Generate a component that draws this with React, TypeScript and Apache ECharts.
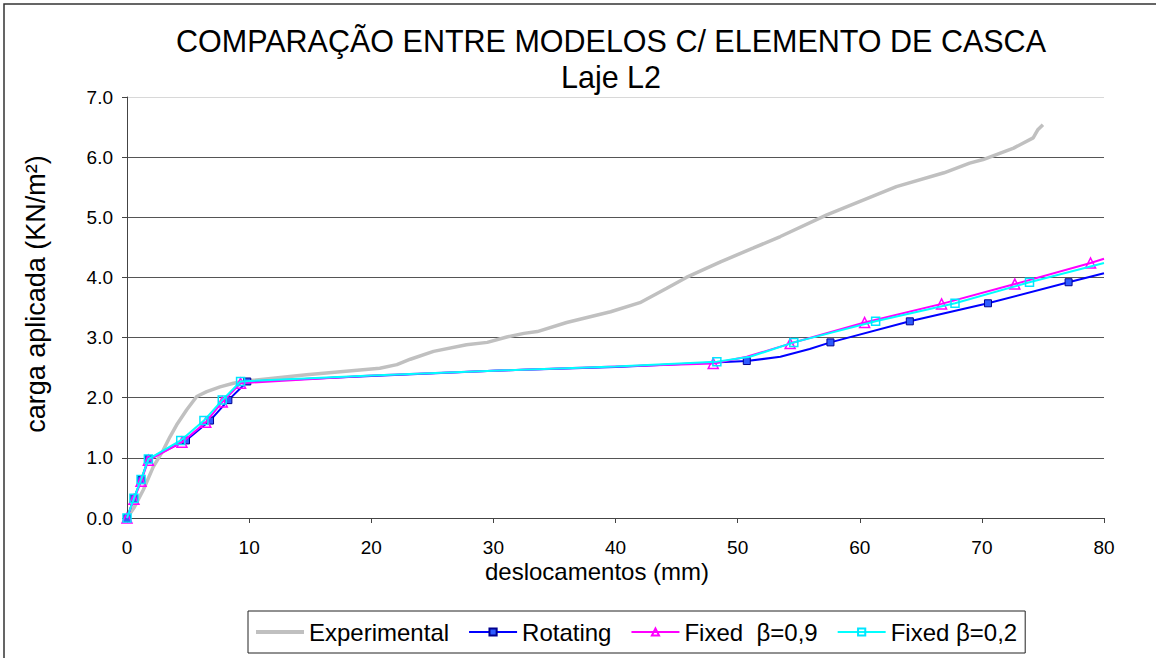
import React, { useEffect, useRef } from "react";
import * as echarts from "echarts";

const titleText = "COMPARAÇÃO ENTRE MODELOS C/ ELEMENTO DE CASCA\nLaje L2";
const xAxisTitle = "deslocamentos (mm)";
const yAxisTitle = "carga aplicada (KN/m²)";
const seriesNames = ["Experimental", "Rotating", "Fixed  β=0,9", "Fixed β=0,2"];

const experimentalPoints: number[][] = [
  [0, 0], [0.6, 0.18], [1.34, 0.47], [2.15, 0.85], [2.97, 1.13], [3.52, 1.35], [4.07, 1.55],
  [4.89, 1.8], [5.71, 2.02], [6.53, 2.1], [7.62, 2.18], [8.71, 2.24], [9.8, 2.28],
  [14.7, 2.38], [20.7, 2.49], [22.1, 2.55], [23.2, 2.64], [25.1, 2.77], [27.8, 2.88],
  [29.5, 2.92], [31.1, 3.01], [32.5, 3.07], [33.6, 3.1], [36.0, 3.25], [39.6, 3.43],
  [42.0, 3.58], [44.2, 3.82], [45.8, 4.0], [48.6, 4.26], [51.3, 4.49], [53.5, 4.68],
  [57.3, 5.04], [63.0, 5.51], [66.9, 5.74], [69.0, 5.9], [70.1, 5.96], [72.6, 6.15],
  [74.2, 6.32], [74.6, 6.46], [75.0, 6.54],
];

const rotatingPoints: number[][] = [
  [0, 0], [0.57, 0.33], [1.15, 0.63], [1.75, 0.98], [4.83, 1.29], [6.8, 1.62], [8.3, 1.96],
  [9.85, 2.27], [20, 2.36], [30, 2.45], [40, 2.51], [50.75, 2.61], [53.5, 2.68], [55.9, 2.81],
  [57.6, 2.92], [64.1, 3.27], [70.5, 3.57], [77.1, 3.92], [80, 4.07],
];
const rotatingUnmarked = [20, 30, 40, 53.5, 55.9, 80];

const fixed09Points: number[][] = [
  [0, 0], [0.57, 0.31], [1.15, 0.61], [1.75, 0.96], [4.5, 1.26], [6.45, 1.59], [7.8, 1.93],
  [9.3, 2.24], [20, 2.37], [30, 2.45], [40, 2.52], [48.0, 2.57], [50.75, 2.68], [54.3, 2.9],
  [60.4, 3.25], [66.7, 3.56], [72.7, 3.89], [78.9, 4.24], [80, 4.31],
];
const fixed09Unmarked = [20, 30, 40, 50.75, 80];

const fixed02Points: number[][] = [
  [0, 0], [0.57, 0.33], [1.15, 0.64], [1.75, 0.98], [4.4, 1.29], [6.3, 1.62], [7.8, 1.96],
  [9.3, 2.27], [20, 2.37], [30, 2.45], [40, 2.52], [48.3, 2.6], [51, 2.68], [54.6, 2.92],
  [61.3, 3.27], [67.8, 3.57], [73.9, 3.92], [80, 4.24],
];
const fixed02Unmarked = [20, 30, 40, 51, 80];

const FONT = "Arial, 'Liberation Sans', Helvetica, sans-serif";

function buildData(points: number[][], unmarked: number[]) {
  return points.map((p) =>
    unmarked.includes(p[0]) ? { value: p, symbol: "none" } : { value: p }
  );
}

export default function App() {
  const ref = useRef<HTMLDivElement>(null);

  useEffect(() => {
    if (!ref.current) return;
    const chart = echarts.init(ref.current, undefined, { renderer: "svg" });
    const gridColors = ["#555", "#555", "#555", "#555", "#555", "#555", "#555", "#d8d8d8"];
    chart.setOption({
      animation: false,
      backgroundColor: "#fff",
      title: {
        text: titleText,
        left: 611,
        top: 23,
        padding: 0,
        textAlign: "center",
        textStyle: {
          fontFamily: FONT,
          fontSize: 30.5,
          fontWeight: "normal",
          color: "#000",
          lineHeight: 36,
        },
      },
      graphic: [
        {
          type: "rect",
          silent: true,
          z: -10,
          shape: { x: 4, y: 4, width: 1200, height: 720 },
          style: { fill: "none", stroke: "#333", lineWidth: 1.5 },
        },
        {
          type: "text",
          x: 597,
          y: 571,
          style: {
            text: xAxisTitle,
            font: `24px ${FONT}`,
            fill: "#000",
            align: "center",
            verticalAlign: "middle",
          },
        },
        {
          type: "text",
          x: 36,
          y: 294,
          rotation: Math.PI / 2,
          style: {
            text: yAxisTitle,
            font: `27px ${FONT}`,
            fill: "#000",
            align: "center",
            verticalAlign: "middle",
          },
        },
      ],
      legend: {
        left: 248,
        top: 611,
        orient: "horizontal",
        backgroundColor: "#fff",
        borderColor: "#222",
        borderWidth: 1,
        borderRadius: 0,
        padding: [7, 8, 7, 8],
        itemWidth: 48,
        itemHeight: 9,
        itemGap: 19,
        textStyle: { fontFamily: FONT, fontSize: 24, color: "#000", lineHeight: 28 },
        data: [
          { name: seriesNames[0], icon: "path://M0,0 L48,0 L48,4 L0,4 Z", itemStyle: { color: "#c0c0c0" } },
          seriesNames[1],
          seriesNames[2],
          seriesNames[3],
        ],
      },
      grid: { left: 127, top: 97, width: 977, height: 421, containLabel: false },
      xAxis: {
        type: "value",
        min: 0,
        max: 80,
        interval: 10,
        axisLine: { show: true, lineStyle: { color: "#444", width: 1 } },
        axisTick: { show: true, inside: false, length: 5, lineStyle: { color: "#444" } },
        axisLabel: { fontFamily: FONT, fontSize: 19, color: "#000", margin: 20 },
        splitLine: { show: false },
      },
      yAxis: {
        type: "value",
        min: 0,
        max: 7,
        interval: 1,
        axisLine: { show: true, lineStyle: { color: "#444", width: 1 } },
        axisTick: { show: true, inside: false, length: 5, lineStyle: { color: "#444" } },
        axisLabel: {
          fontFamily: FONT,
          fontSize: 19,
          color: "#000",
          margin: 14,
          formatter: (v: number) => v.toFixed(1),
        },
        splitLine: { show: true, lineStyle: { color: gridColors, width: 1 } },
      },
      series: [
        {
          name: seriesNames[0],
          type: "line",
          data: experimentalPoints,
          symbol: "none",
          clip: true,
          lineStyle: { color: "#c0c0c0", width: 3.5 },
          itemStyle: { color: "#c0c0c0" },
          z: 1,
        },
        {
          name: seriesNames[1],
          type: "line",
          data: buildData(rotatingPoints, rotatingUnmarked),
          symbol: "rect",
          symbolSize: 7,
          clip: true,
          lineStyle: { color: "#0000ff", width: 2 },
          itemStyle: { color: "#2f5bff", borderColor: "#000090", borderWidth: 1 },
          z: 2,
        },
        {
          name: seriesNames[2],
          type: "line",
          data: buildData(fixed09Points, fixed09Unmarked),
          symbol: "triangle",
          symbolSize: 10,
          clip: true,
          lineStyle: { color: "#ff00ff", width: 2 },
          itemStyle: { color: "rgba(255,255,255,0)", borderColor: "#ff00ff", borderWidth: 1.5 },
          z: 3,
        },
        {
          name: seriesNames[3],
          type: "line",
          data: buildData(fixed02Points, fixed02Unmarked),
          symbol: "rect",
          symbolSize: 8,
          clip: true,
          lineStyle: { color: "#00ffff", width: 2 },
          itemStyle: { color: "rgba(255,255,255,0)", borderColor: "#00e5ff", borderWidth: 1.5 },
          z: 4,
        },
      ],
    });
    return () => chart.dispose();
  }, []);

  return (
    <div
      ref={ref}
      style={{ position: "fixed", left: 0, top: 0, width: 1156, height: 658 }}
    />
  );
}
